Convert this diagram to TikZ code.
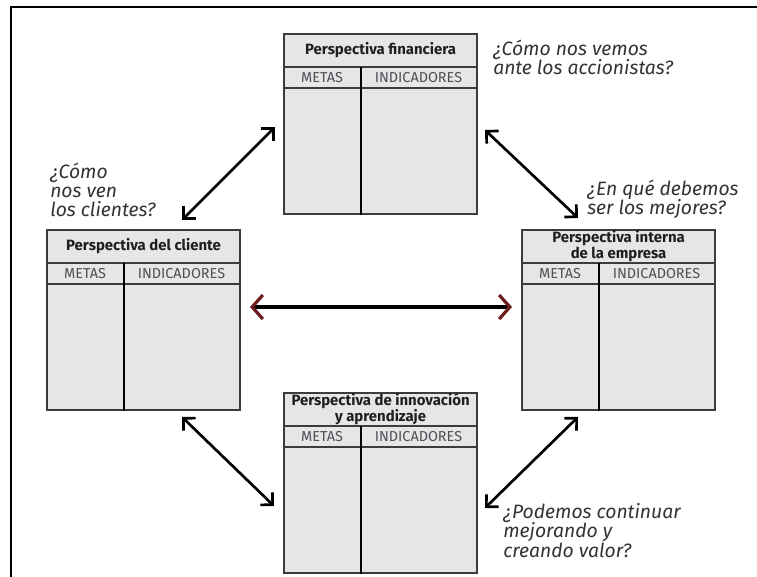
\documentclass[tikz,border=0pt]{standalone}
\usepackage{fontspec}
\setmainfont{Fira Sans}
\usetikzlibrary{arrows.meta,calc}

\definecolor{panelfill}{HTML}{E6E6E6}
\definecolor{panelline}{HTML}{3C3C3C}
\definecolor{headtext}{HTML}{4F4F57}
\definecolor{qtext}{HTML}{333333}
\definecolor{tipred}{HTML}{6B1C1C}

\tikzset{
  panel/.style={draw=panelline, fill=panelfill, line width=1.6pt,
    minimum width=144.75pt, minimum height=135pt, inner sep=0pt, anchor=north west},
  rowline/.style={draw=panelline, line width=1.4pt},
  colline/.style={draw=black, line width=2pt},
  paneltitle/.style={font=\bfseries\fontsize{11.2}{9.6}\selectfont, align=center,
    text=black!88, inner sep=0pt},
  colhead/.style={font=\fontsize{10.8}{11}\selectfont, text=headtext, inner sep=0pt},
  question/.style={font=\itshape\fontsize{14.5}{14.5}\selectfont, text=qtext,
    align=left, inner sep=0pt, anchor=base west},
  link/.style={line width=2pt,
    {Straight Barb[length=6.5pt,width=13pt]}-{Straight Barb[length=6.5pt,width=13pt]}},
  mainlink/.style={line width=2.4pt,
    {Straight Barb[length=8pt,width=18pt,color=tipred]}-{Straight Barb[length=8pt,width=18pt,color=tipred]}},
}

% one perspective panel: name, left x, top y, title
\newcommand\perspectiva[4]{%
  \node[panel] (#1) at (#2,#3) {};
  \draw[rowline] ($(#1.north west)+(0pt,-25.5pt)$) -- ($(#1.north east)+(0pt,-25.5pt)$);
  \draw[rowline] ($(#1.north west)+(0pt,-41.25pt)$) -- ($(#1.north east)+(0pt,-41.25pt)$);
  \draw[colline] ($(#1.north west)+(58.5pt,-25.5pt)$) -- ($(#1.south west)+(58.5pt,0pt)$);
  \node[paneltitle] (#1-title) at ($(#1.north)+(0pt,-12.75pt)$) {#4};
  \node[colhead] (#1-metas) at ($(#1.north west)+(29.25pt,-33.4pt)$) {METAS};
  \node[colhead] (#1-ind) at ($(#1.north west)+(101.6pt,-33.4pt)$) {INDICADORES};
}

\begin{document}
\begin{tikzpicture}[x=0.75pt, y=-0.75pt]
  \useasboundingbox (0,0) rectangle (757,577);

  % page frame
  \draw[line width=1.5pt] (11,577) -- (11,7) -- (757,7);

  \perspectiva{fin}{283}{33}{Perspectiva financiera}
  \perspectiva{cli}{46}{229}{Perspectiva del cliente}
  \perspectiva{int}{521}{229}{Perspectiva interna\\de la empresa}
  \perspectiva{inn}{283}{392}{Perspectiva de innovación\\y aprendizaje}

  % questions (anchored at the baseline of their last line)
  \node[question] (q-fin) at (493,75) {¿Cómo nos vemos\\ante los accionistas?};
  \node[question] (q-int) at (587,215) {¿En qué debemos\\ser los mejores?};
  \node[question] (q-cli) at (50,217) {¿Cómo\\nos ven\\los clientes?};
  \node[question] (q-inn) at (503,557) {¿Podemos continuar\\mejorando y\\creando valor?};

  % arrow ends
  \coordinate (fin-w) at (275,127);
  \coordinate (cli-n) at (182,220);
  \coordinate (fin-e) at (485,130);
  \coordinate (int-n) at (578,218);
  \coordinate (cli-s) at (182,417);
  \coordinate (inn-w) at (274,506);
  \coordinate (int-s) at (578,417);
  \coordinate (inn-e) at (485,508);
  \coordinate (cli-e) at (250,307);
  \coordinate (int-w) at (512,307);

  \draw[link] (cli-n) -- (fin-w);
  \draw[link] (fin-e) -- (int-n);
  \draw[link] (cli-s) -- (inn-w);
  \draw[link] (int-s) -- (inn-e);
  \draw[mainlink] (cli-e) -- (int-w);
\end{tikzpicture}
\end{document}
